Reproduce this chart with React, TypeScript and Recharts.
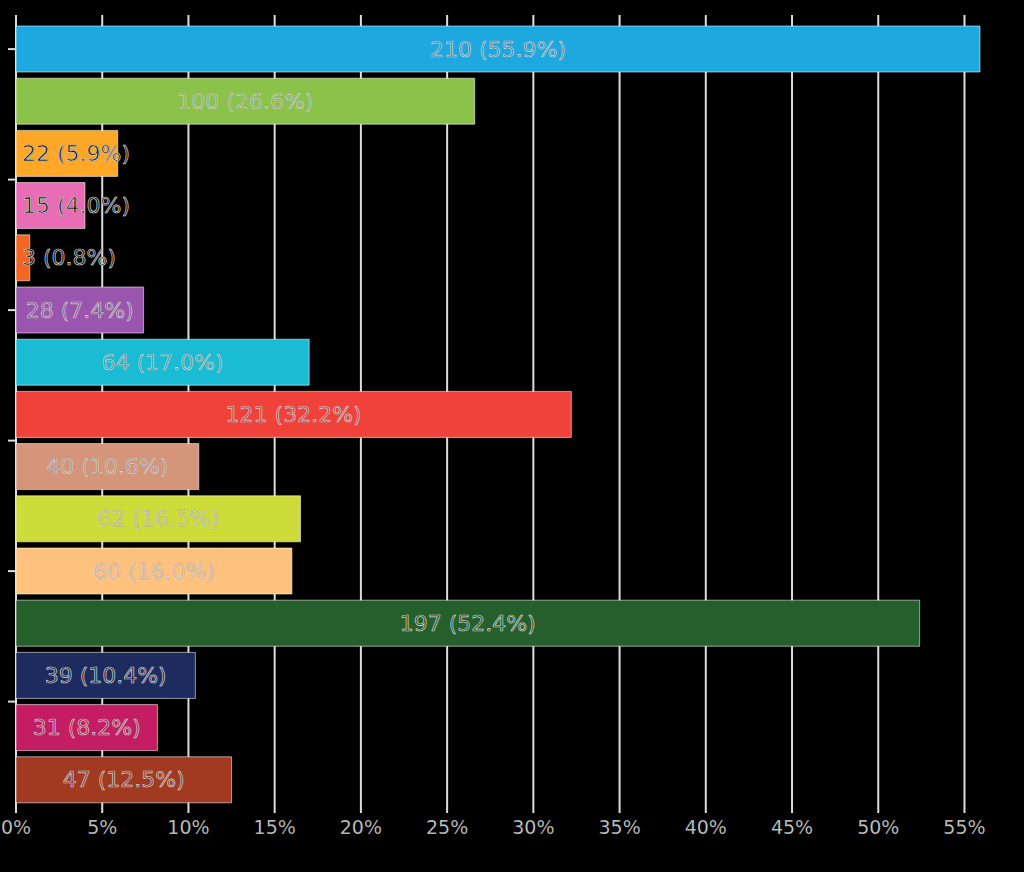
import React from 'react';
import { BarChart, Bar, XAxis, YAxis, CartesianGrid, Cell, LabelList } from 'recharts';

const categories = [
  'Option 1', 'Option 2', 'Option 3', 'Option 4', 'Option 5',
  'Option 6', 'Option 7', 'Option 8', 'Option 9', 'Option 10',
  'Option 11', 'Option 12', 'Option 13', 'Option 14', 'Option 15',
];
const counts = [210, 100, 22, 15, 3, 28, 64, 121, 40, 62, 60, 197, 39, 31, 47];
const percents = [55.9, 26.6, 5.9, 4.0, 0.8, 7.4, 17.0, 32.2, 10.6, 16.5, 16.0, 52.4, 10.4, 8.2, 12.5];
const colors = [
  '#1EA8E0', '#8BC34A', '#FFA726', '#E96DB5', '#F26522',
  '#9A55AE', '#19BCD3', '#F0423A', '#D4957A', '#CDDC39',
  '#FFC27E', '#245F2C', '#1E2B5E', '#C41D64', '#A23A22',
];
const darkLabel = [false, false, true, true, true, false, false, false, false, false, false, false, false, false, false];
const xTicks = [0, 5, 10, 15, 20, 25, 30, 35, 40, 45, 50, 55];

const data = categories.map((name, i) => ({ name, pct: percents[i], count: counts[i] }));

const FONT = "'DejaVu Sans', Verdana, sans-serif";
const MARGIN_TOP = 15;
const PAD_TOP = 8;
const PAD_BOTTOM = 7;

const glyphW: Record<string, number> = { ' ': 0.29, '(': 0.35, ')': 0.35, '.': 0.29, '%': 0.86 };
function estWidth(s: string, fs: number) {
  let w = 0;
  for (const ch of s) w += glyphW[ch] ?? 0.575;
  return w * fs;
}

const BarLabel = (props: any) => {
  const { x, y, width, height, index } = props;
  const text = `${counts[index]} (${percents[index].toFixed(1)}%)`;
  const fs = 22;
  const tw = estWidth(text, fs);
  const fits = tw + 8 <= width;
  const tx = fits ? x + width / 2 : x + 6;
  const anchor = fits ? 'middle' : 'start';
  const cy = y + height / 2;
  const dark = darkLabel[index];
  return (
    <g>
      <text x={tx} y={cy} textAnchor={anchor} dominantBaseline="central" fontSize={fs} fontFamily={FONT}
        fill="none" stroke="rgba(0,0,0,0.3)" strokeWidth={1.2}>{text}</text>
      <text x={tx} y={cy} textAnchor={anchor} dominantBaseline="central" fontSize={fs} fontFamily={FONT}
        fill={dark ? '#111' : 'none'} stroke="rgba(240,240,240,0.9)" strokeWidth={0.7}>{text}</text>
    </g>
  );
};

const XTick = (props: any) => {
  const { x, y, payload } = props;
  return (
    <text x={x} y={y} dy="0.71em" textAnchor="middle" fontSize={19} fontFamily={FONT}
      fill="#c4c4c4" stroke="rgba(0,0,0,0.3)" strokeWidth={0.5}>{`${payload.value}%`}</text>
  );
};

// Left-axis marks every two and a half categories (band centre / band edge alternately)
const YMark = (props: any) => {
  const { x, y, index } = props;
  const i = typeof index === 'number' ? index : (props.payload?.index ?? 0);
  const start = MARGIN_TOP + PAD_TOP;
  const step = (y - start) / (i + 0.5);
  let my: number | null = null;
  if (i % 5 === 0) my = y;
  else if (i % 5 === 3) my = y - step / 2;
  if (my == null) return <g />;
  return <line x1={x - 8} x2={x} y1={my} y2={my} stroke="#dcdcdc" strokeWidth={2} />;
};

export default function App() {
  return (
    <div style={{ position: 'absolute', left: 0, top: 0, width: 1024, height: 872, background: '#000' }}>
      <BarChart
        width={1024}
        height={872}
        data={data}
        layout="vertical"
        margin={{ top: MARGIN_TOP, right: 44, bottom: 19, left: 0 }}
        barCategoryGap={3}
      >
        <CartesianGrid
          horizontal={false}
          vertical={true}
          stroke="#dcdcdc"
          strokeWidth={2}
          verticalValues={xTicks}
        />
        <XAxis
          type="number"
          dataKey="pct"
          domain={[0, 'dataMax']}
          ticks={xTicks}
          interval={0}
          height={40}
          axisLine={false}
          tickLine={false}
          tick={<XTick />}
        />
        <YAxis
          type="category"
          dataKey="name"
          width={16}
          interval={0}
          tickSize={0}
          tickMargin={0}
          axisLine={false}
          tickLine={false}
          tick={<YMark />}
          padding={{ top: PAD_TOP, bottom: PAD_BOTTOM }}
        />
        <Bar dataKey="pct" isAnimationActive={false} stroke="rgba(255,255,255,0.55)" strokeWidth={1}>
          {data.map((d, i) => (
            <Cell key={d.name} fill={colors[i]} />
          ))}
          <LabelList dataKey="pct" content={<BarLabel />} />
        </Bar>
      </BarChart>
    </div>
  );
}
